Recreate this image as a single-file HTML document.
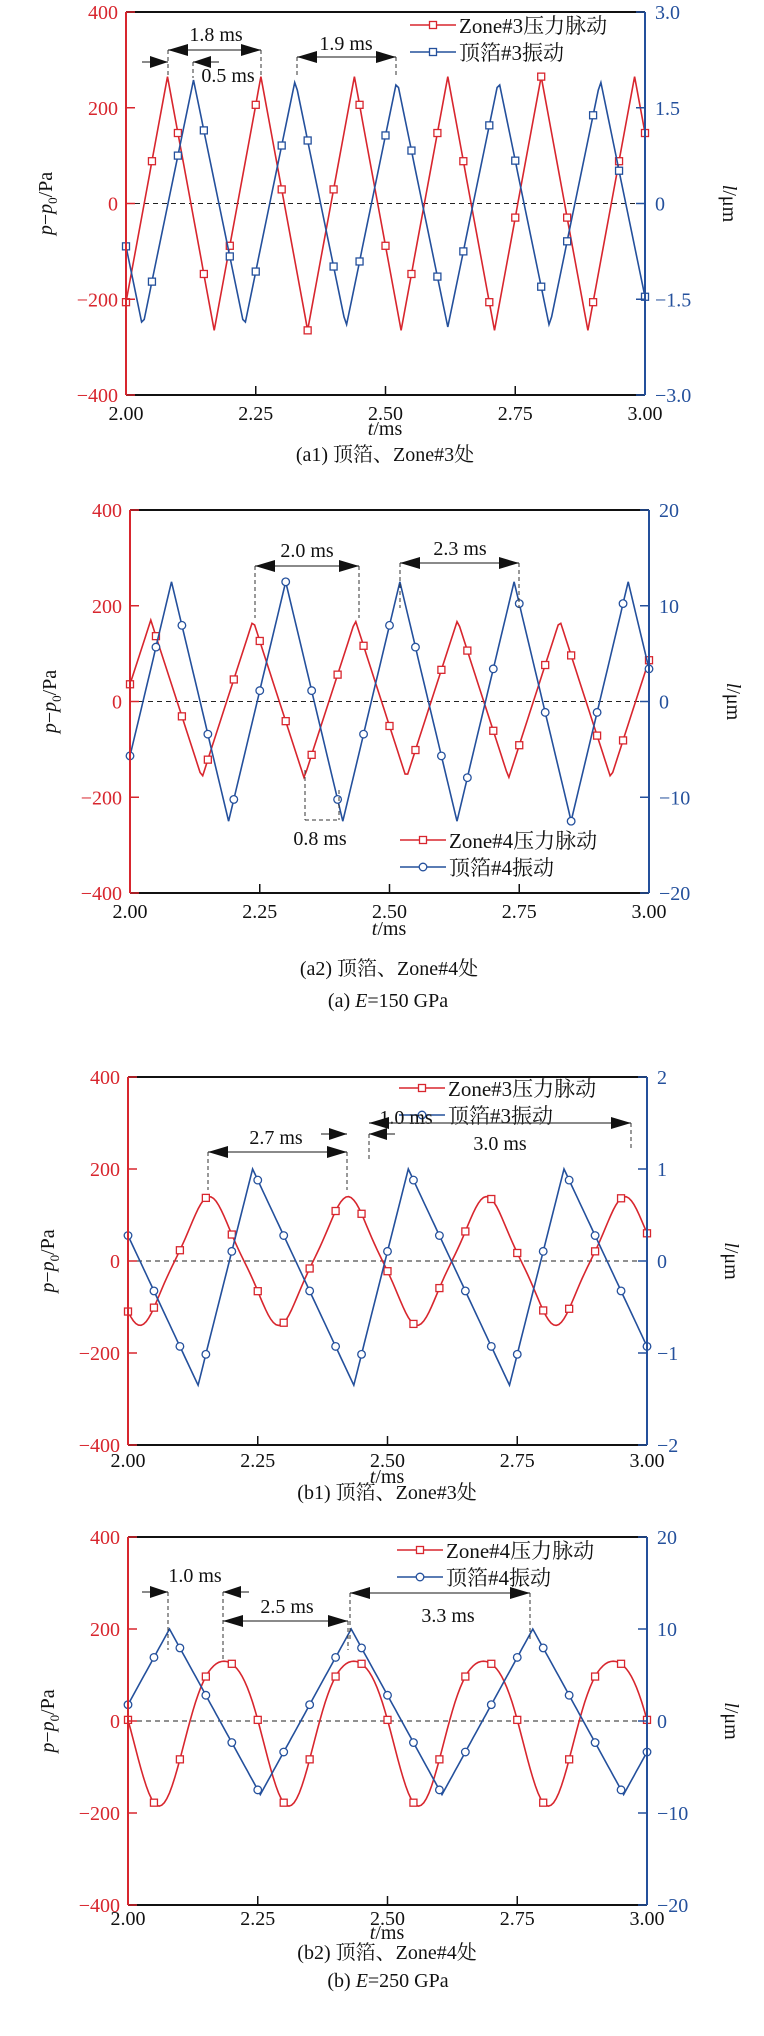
<!DOCTYPE html>
<html><head><meta charset="utf-8"><style>
html,body{margin:0;padding:0;background:#fff;}
svg text{font-family:"Liberation Serif","Noto Serif CJK SC",serif;}
</style></head><body>
<svg id="s" xmlns="http://www.w3.org/2000/svg" width="764" height="2031" viewBox="0 0 764 2031"></svg>
<script>
const R="#d8262e",B="#24509c";
let o="";
function frac(x){return x-Math.floor(x);}
function tri(p){return 4*Math.abs(frac(p)-0.5)-1;}
function atri(t,tmin,P,r){let p=frac((t-tmin)/P);return p<r?-1+2*p/r:1-2*(p-r)/(1-r);}
function panel(c){
 const H=c.H||383;
 const L=c.L,Rr=L+519,T=c.T,Bt=T+H;
 const X=t=>L+(t)*519, Y=v=>T+(400-v)/800*H;
 o+=`<line x1="${L}" y1="${Y(0)}" x2="${Rr}" y2="${Y(0)}" stroke="#222" stroke-width="1" stroke-dasharray="5,4"/>`;
 [[c.red,R,"sq"],[c.blue,B,c.bm]].forEach(([f,col,m])=>{
  let pts=[];for(let i=0;i<=200;i++){let t=i/200;pts.push(X(t).toFixed(1)+","+Y(f(t)).toFixed(1));}
  o+=`<polyline points="${pts.join(" ")}" fill="none" stroke="${col}" stroke-width="1.6"/>`;
  for(let i=0;i<=20;i++){let t=i/20,x=X(t),y=Y(f(t));
   if(m=="sq")o+=`<rect x="${x-3.5}" y="${y-3.5}" width="7" height="7" fill="#fff" stroke="${col}" stroke-width="1.3"/>`;
   else o+=`<circle cx="${x}" cy="${y}" r="3.8" fill="#fff" stroke="${col}" stroke-width="1.3"/>`;}
 });
 o+=`<line x1="${L}" y1="${T}" x2="${Rr}" y2="${T}" stroke="#111" stroke-width="2"/>`;
 o+=`<line x1="${L}" y1="${Bt}" x2="${Rr}" y2="${Bt}" stroke="#111" stroke-width="2"/>`;
 o+=`<line x1="${L}" y1="${T}" x2="${L}" y2="${Bt}" stroke="${R}" stroke-width="2"/>`;
 o+=`<line x1="${Rr}" y1="${T}" x2="${Rr}" y2="${Bt}" stroke="${B}" stroke-width="2"/>`;
 const lv=[400,200,0,-200,-400],ll=["400","200","0","\u2212200","\u2212400"];
 lv.forEach((v,i)=>{let y=Y(v);
  o+=`<line x1="${L}" y1="${y}" x2="${L+9}" y2="${y}" stroke="${R}" stroke-width="1.5"/>`;
  o+=`<line x1="${Rr-9}" y1="${y}" x2="${Rr}" y2="${y}" stroke="${B}" stroke-width="1.5"/>`;
  o+=`<text x="${L-8}" y="${y+7}" font-size="20" fill="${R}" text-anchor="end">${ll[i]}</text>`;
  o+=`<text x="${Rr+10}" y="${y+7}" font-size="20" fill="${B}">${c.rl[i]}</text>`;});
 const tk=c.tk||25, tm=c.tm||42, cp=c.cp||68;
 ["2.00","2.25","2.50","2.75","3.00"].forEach((s,i)=>{let x=L+i*519/4;
  if(i>0&&i<4)o+=`<line x1="${x}" y1="${Bt-9}" x2="${x}" y2="${Bt}" stroke="#111" stroke-width="1.5"/>`;
  o+=`<text x="${x}" y="${Bt+tk}" font-size="20" fill="#111" text-anchor="middle">${s}</text>`;});
 o+=`<text x="${L+259}" y="${Bt+tm}" font-size="20" fill="#111" text-anchor="middle"><tspan font-style="italic">t</tspan>/ms</text>`;
 o+=`<text x="${L+259}" y="${Bt+cp}" font-size="20" fill="#111" text-anchor="middle">${c.cap}</text>`;
 o+=`<text transform="translate(${c.L-74},${Y(0)}) rotate(-90)" font-size="20" fill="#111" text-anchor="middle"><tspan font-style="italic">p</tspan>\u2212<tspan font-style="italic">p</tspan><tspan font-size="13" dy="5">0</tspan><tspan dy="-5">/Pa</tspan></text>`;
 o+=`<text transform="translate(${Rr+78},${Y(0)}) rotate(90)" font-size="20" fill="#111" text-anchor="middle"><tspan font-style="italic">l</tspan>/\u03bcm</text>`;
 c.leg.forEach(([txt,col,m],i)=>{let y=c.lg[1]+i*27,x=c.lg[0];
  o+=`<line x1="${x}" y1="${y}" x2="${x+46}" y2="${y}" stroke="${col}" stroke-width="1.6"/>`;
  if(m=="sq")o+=`<rect x="${x+19.5}" y="${y-3.5}" width="7" height="7" fill="#fff" stroke="${col}" stroke-width="1.3"/>`;
  else o+=`<circle cx="${x+23}" cy="${y}" r="3.8" fill="#fff" stroke="${col}" stroke-width="1.3"/>`;
  o+=`<text x="${x+49}" y="${y+8}" font-size="21" fill="#111">${txt}</text>`;});
}
function arrow(x1,x2,y){
 o+=`<line x1="${x1}" y1="${y}" x2="${x2}" y2="${y}" stroke="#444" stroke-width="1.3"/>`;
 o+=`<polygon points="${x1},${y} ${x1+20},${y-6} ${x1+20},${y+6}" fill="#111"/>`;
 o+=`<polygon points="${x2},${y} ${x2-20},${y-6} ${x2-20},${y+6}" fill="#111"/>`;}
function harrow(xtip,dir,y){o+=`<line x1="${xtip-dir*26}" y1="${y}" x2="${xtip}" y2="${y}" stroke="#444" stroke-width="1.3"/><polygon points="${xtip},${y} ${xtip-dir*18},${y-6} ${xtip-dir*18},${y+6}" fill="#111"/>`;}
function vd(x,y1,y2){o+=`<line x1="${x}" y1="${y1}" x2="${x}" y2="${y2}" stroke="#333" stroke-width="1" stroke-dasharray="4,3"/>`;}
function tx(x,y,s){o+=`<text x="${x}" y="${y}" font-size="20" fill="#111" text-anchor="middle">${s}</text>`;}

// a1
panel({L:126,T:12,red:t=>265*tri((t-0.08)/0.18),blue:t=>258*tri((t-0.13)/0.196),bm:"sq",
 rl:["3.0","1.5","0","\u22121.5","\u22123.0"],cap:"(a1) 顶箔、Zone#3处",tk:25,tm:40,cp:66,
 leg:[["Zone#3压力脉动",R,"sq"],["顶箔#3振动",B,"sq"]],lg:[410,25]});
arrow(168,261,50);vd(168,50,76);vd(261,50,76);tx(216,41,"1.8 ms");
harrow(168,1,62);harrow(193,-1,62);vd(193,62,78);tx(228,82,"0.5 ms");
arrow(297,396,57);vd(297,57,78);vd(396,57,78);tx(346,50,"1.9 ms");
// a2
panel({L:130,T:510,red:t=>165*tri((t-0.04)/0.197)+5,blue:t=>250*tri((t-0.08)/0.22),bm:"ci",
 rl:["20","10","0","\u221210","\u221220"],cap:"(a2) 顶箔、Zone#4处",tk:25,tm:42,cp:82,
 leg:[["Zone#4压力脉动",R,"sq"],["顶箔#4振动",B,"ci"]],lg:[400,840]});
arrow(255,359,566);vd(255,566,618);vd(359,566,618);tx(307,557,"2.0 ms");
arrow(400,519,563);vd(400,563,608);vd(519,563,608);tx(460,555,"2.3 ms");
vd(305,770,820);vd(339,790,820);o+=`<line x1="305" y1="820" x2="339" y2="820" stroke="#333" stroke-dasharray="4,3"/>`;tx(320,845,"0.8 ms");
tx(388,1007,"(a) <tspan font-style='italic'>E</tspan>=150 GPa");
// b1
panel({L:128,T:1077,H:368,red:t=>{let s=Math.sin(2*Math.PI*(t-0.09)/0.267);return 140*(0.7*s+0.3*s*s*s);},
 blue:t=>235*atri(t,0.135,0.3,0.35)-35,bm:"ci",
 rl:["2","1","0","\u22121","\u22122"],cap:"(b1) 顶箔、Zone#3处",tk:22,tm:38,cp:54,
 leg:[["Zone#3压力脉动",R,"sq"],["顶箔#3振动",B,"ci"]],lg:[399,1088]});
arrow(208,347,1152);vd(208,1152,1190);vd(347,1152,1190);tx(276,1144,"2.7 ms");
harrow(347,1,1134);harrow(369,-1,1134);vd(369,1134,1160);tx(406,1124,"1.0 ms");
arrow(369,631,1123);vd(631,1123,1150);tx(500,1150,"3.0 ms");
// b2
panel({L:128,T:1537,H:368,red:t=>{let p=frac((t-0.06)/0.25);return -157.5*Math.cos(2*Math.PI*p)-7.5-20*Math.cos(4*Math.PI*p);},
 blue:t=>180*tri((t-0.08)/0.35)+20,bm:"ci",
 rl:["20","10","0","\u221210","\u221220"],cap:"(b2) 顶箔、Zone#4处",tk:20,tm:34,cp:54,
 leg:[["Zone#4压力脉动",R,"sq"],["顶箔#4振动",B,"ci"]],lg:[397,1550]});
harrow(168,1,1592);harrow(223,-1,1592);vd(168,1592,1650);vd(223,1592,1660);tx(195,1582,"1.0 ms");
arrow(223,348,1621);vd(348,1621,1650);tx(287,1613,"2.5 ms");
arrow(350,530,1593);vd(350,1593,1640);vd(530,1593,1640);tx(448,1622,"3.3 ms");
tx(388,1987,"(b) <tspan font-style='italic'>E</tspan>=250 GPa");
document.getElementById("s").innerHTML=o;
</script>
</body></html>
